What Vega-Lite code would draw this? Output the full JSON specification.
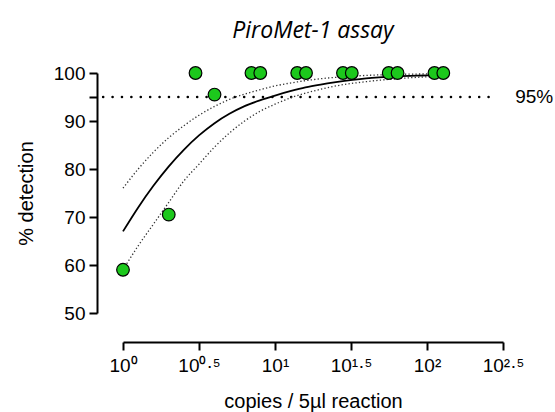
{
  "$schema": "https://vega.github.io/schema/vega-lite/v6.json",
  "width": 380,
  "height": 240,
  "autosize": "none",
  "padding": {"left": 123, "top": 73, "right": 52, "bottom": 99},
  "background": "white",
  "title": {"text": "PiroMet-1 assay", "font": "Open Sans", "fontStyle": "italic", "fontWeight": "normal", "fontSize": 23, "color": "black", "offset": 21},
  "config": {
    "view": {"stroke": null},
    "axis": {"domainColor": "black", "domainWidth": 2, "tickColor": "black", "tickWidth": 2, "tickSize": 8, "labelColor": "black", "labelFont": "Liberation Sans", "labelFontSize": 19, "titleFont": "Liberation Sans", "titleFontSize": 20, "titleFontWeight": "normal", "titleColor": "black", "grid": false, "labelOverlap": false, "labelBound": false}
  },
  "datasets": {
    "points": [
      {"copies": 1, "pct": 59},
      {"copies": 2, "pct": 70.5},
      {"copies": 3, "pct": 100},
      {"copies": 4, "pct": 95.5},
      {"copies": 7, "pct": 100},
      {"copies": 8, "pct": 100},
      {"copies": 14, "pct": 100},
      {"copies": 16, "pct": 100},
      {"copies": 28, "pct": 100},
      {"copies": 32, "pct": 100},
      {"copies": 56, "pct": 100},
      {"copies": 64, "pct": 100},
      {"copies": 112, "pct": 100},
      {"copies": 128, "pct": 100}
    ],
    "curve": [
      {"copies": 1, "fit": 67, "lower": 59, "upper": 76},
      {"copies": 1.259, "fit": 72, "lower": 64, "upper": 80},
      {"copies": 1.585, "fit": 76.5, "lower": 68.5, "upper": 83.5},
      {"copies": 1.995, "fit": 80.5, "lower": 73, "upper": 86.5},
      {"copies": 2.512, "fit": 84, "lower": 77.5, "upper": 89},
      {"copies": 3.162, "fit": 87, "lower": 81, "upper": 91.2},
      {"copies": 3.981, "fit": 89.5, "lower": 84.5, "upper": 93},
      {"copies": 5.012, "fit": 91.5, "lower": 87.5, "upper": 94.5},
      {"copies": 6.31, "fit": 93.1, "lower": 90, "upper": 95.6},
      {"copies": 7.943, "fit": 94.3, "lower": 92, "upper": 96.5},
      {"copies": 10, "fit": 95.3, "lower": 93.5, "upper": 97.3},
      {"copies": 12.59, "fit": 96.2, "lower": 94.8, "upper": 97.9},
      {"copies": 15.85, "fit": 97, "lower": 95.8, "upper": 98.4},
      {"copies": 19.95, "fit": 97.6, "lower": 96.6, "upper": 98.8},
      {"copies": 25.12, "fit": 98.1, "lower": 97.3, "upper": 99.1},
      {"copies": 39.81, "fit": 98.9, "lower": 98.2, "upper": 99.5},
      {"copies": 63.1, "fit": 99.3, "lower": 98.8, "upper": 99.7},
      {"copies": 100, "fit": 99.5, "lower": 99.2, "upper": 99.8},
      {"copies": 125.9, "fit": 99.6, "lower": 99.3, "upper": 99.8}
    ],
    "threshold": [
      {"start": 0.74, "end": 280, "pct": 95, "labelAt": 380, "label": "95%"}
    ]
  },
  "layer": [
    {
      "data": {"name": "threshold"},
      "mark": {"type": "rule", "color": "black", "strokeWidth": 2.5, "strokeDash": [0.1, 9.3], "strokeCap": "round", "clip": false},
      "encoding": {
        "x": {"field": "start", "type": "quantitative", "scale": {"type": "log", "domain": [1, 316.23]}, "title": "copies / 5µl reaction"},
        "x2": {"field": "end"},
        "y": {"field": "pct", "type": "quantitative", "scale": {"domain": [50, 100]}, "title": "% detection"}
      }
    },
    {
      "data": {"name": "curve"},
      "mark": {"type": "line", "color": "#333333", "strokeWidth": 1.3, "strokeDash": [1.3, 2.2], "interpolate": "monotone"},
      "encoding": {
        "x": {"field": "copies", "type": "quantitative", "scale": {"type": "log", "domain": [1, 316.23]}},
        "y": {"field": "upper", "type": "quantitative", "scale": {"domain": [50, 100]}}
      }
    },
    {
      "data": {"name": "curve"},
      "mark": {"type": "line", "color": "#333333", "strokeWidth": 1.3, "strokeDash": [1.3, 2.2], "interpolate": "monotone"},
      "encoding": {
        "x": {"field": "copies", "type": "quantitative", "scale": {"type": "log", "domain": [1, 316.23]}},
        "y": {"field": "lower", "type": "quantitative", "scale": {"domain": [50, 100]}}
      }
    },
    {
      "data": {"name": "curve"},
      "mark": {"type": "line", "color": "black", "strokeWidth": 1.8, "interpolate": "monotone"},
      "encoding": {
        "x": {"field": "copies", "type": "quantitative", "scale": {"type": "log", "domain": [1, 316.23]}},
        "y": {"field": "fit", "type": "quantitative", "scale": {"domain": [50, 100]}}
      }
    },
    {
      "data": {"name": "points"},
      "mark": {"type": "point", "shape": "circle", "filled": true, "fill": "#1cc81c", "fillOpacity": 1, "stroke": "black", "strokeWidth": 1.2, "size": 160, "opacity": 1},
      "encoding": {
        "x": {
          "field": "copies", "type": "quantitative",
          "scale": {"type": "log", "domain": [1, 316.23]},
          "title": "copies / 5µl reaction",
          "axis": {"offset": 29, "tickCount": 20, "values": [1, 3.16228, 10, 31.6228, 100, 316.2277], "labelExpr": "datum.value < 2 ? '10⁰' : datum.value < 5 ? '10⁰·⁵' : datum.value < 20 ? '10¹' : datum.value < 50 ? '10¹·⁵' : datum.value < 200 ? '10²' : '10²·⁵'", "labelPadding": 6, "titlePadding": 16, "labelFlush": false}
        },
        "y": {
          "field": "pct", "type": "quantitative",
          "scale": {"domain": [50, 100]},
          "title": "% detection",
          "axis": {"offset": 26, "tickCount": 20, "values": [50, 60, 70, 80, 90, 95, 100], "labelExpr": "datum.value == 95 ? '' : datum.label", "labelPadding": 4, "titlePadding": 17}
        }
      }
    },
    {
      "data": {"name": "threshold"},
      "mark": {"type": "text", "align": "left", "baseline": "middle", "font": "Liberation Sans", "fontSize": 19, "color": "black", "clip": false},
      "encoding": {
        "x": {"field": "labelAt", "type": "quantitative", "scale": {"type": "log", "domain": [1, 316.23]}},
        "y": {"field": "pct", "type": "quantitative", "scale": {"domain": [50, 100]}},
        "text": {"field": "label"}
      }
    }
  ]
}
